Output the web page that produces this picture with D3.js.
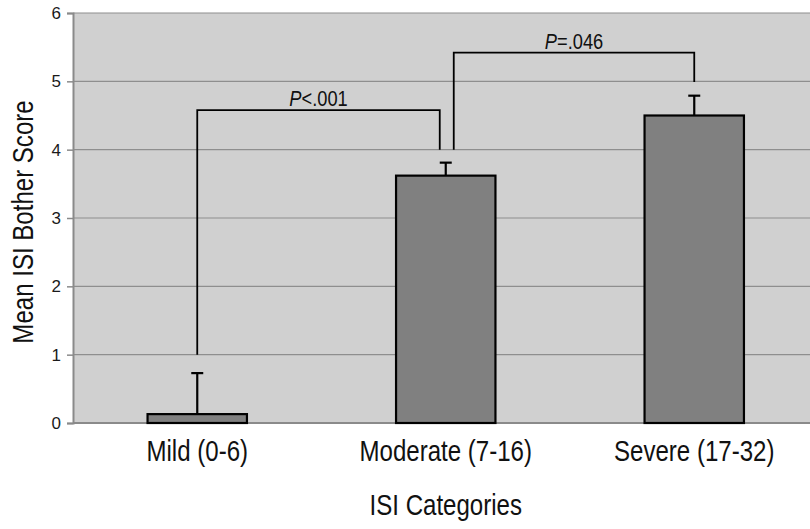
<!DOCTYPE html>
<html>
<head>
<meta charset="utf-8">
<script src="https://cdn.jsdelivr.net/npm/d3@7"></script>
<style>
  html, body { margin: 0; padding: 0; background: #ffffff; }
  svg { display: block; }
  .narrow { font-family: "Liberation Sans", Arial, sans-serif; }
</style>
</head>
<body>
<svg id="chart" width="810" height="529"></svg>
<script>
// ---- data ----
const categories = ["Mild (0-6)", "Moderate (7-16)", "Severe (17-32)"];
const means = [0.13, 3.62, 4.50];
const errUpper = [0.60, 0.19, 0.29];
const yTicks = [0, 1, 2, 3, 4, 5, 6];
const bracketLabels = ["<.001", "=.046"];
const bracketFrom = [0, 1];
const bracketTo = [1, 2];
const bracketHeights = [4.58, 5.42];
const bracketLeftEnds = [1.0, 4.0];
const bracketRightEnds = [4.0, 4.99];
const xTitle = "ISI Categories";
const yTitle = "Mean ISI Bother Score";

// ---- layout ----
const svg = d3.select("#chart");
const mLeft = 73, mRight = 818.5, mTop = 13, mBottom = 423;
const squeeze = 0.83; // condensed look of the original font

const x = d3.scaleBand().domain(categories).range([mLeft, mRight])
  .paddingInner(0.6).paddingOuter(0.3);
const y = d3.scaleLinear().domain([0, 6]).range([mBottom, mTop]);

// plot background
svg.append("rect").attr("x", mLeft).attr("y", mTop)
  .attr("width", mRight - mLeft).attr("height", mBottom - mTop)
  .attr("fill", "#d0d0d0");

// gridlines
svg.append("g").selectAll("line").data(yTicks.filter(d => d > 0)).join("line")
  .attr("x1", mLeft).attr("x2", mRight)
  .attr("y1", d => y(d)).attr("y2", d => y(d))
  .attr("stroke", "#8e8e8e").attr("stroke-width", 1.2);

// y axis
const yAxis = svg.append("g").attr("transform", `translate(${mLeft},0)`)
  .call(d3.axisLeft(y).tickValues(yTicks).tickFormat(d3.format("d")).tickSize(6).tickPadding(6));
yAxis.select(".domain").attr("stroke", "#8a8a8a").attr("stroke-width", 2);
yAxis.selectAll(".tick line").attr("stroke", "#8a8a8a").attr("stroke-width", 1.5);
yAxis.selectAll(".tick text")
  .attr("font-family", "'Liberation Sans', Arial, sans-serif")
  .attr("font-size", 17).attr("fill", "#1a1a1a");

// x axis line
svg.append("line").attr("x1", mLeft).attr("x2", mRight)
  .attr("y1", mBottom).attr("y2", mBottom)
  .attr("stroke", "#8a8a8a").attr("stroke-width", 2);

// bars
svg.append("g").selectAll("rect").data(categories).join("rect")
  .attr("x", d => x(d)).attr("width", x.bandwidth())
  .attr("y", (d, i) => y(means[i]))
  .attr("height", (d, i) => y(0) - y(means[i]))
  .attr("fill", "#808080").attr("stroke", "#000").attr("stroke-width", 2.2);

// error bars (upper only)
const eg = svg.append("g").attr("stroke", "#000").attr("stroke-width", 2.2);
categories.forEach((c, i) => {
  const cx = x(c) + x.bandwidth() / 2;
  eg.append("line").attr("x1", cx).attr("x2", cx)
    .attr("y1", y(means[i])).attr("y2", y(means[i] + errUpper[i]));
  eg.append("line").attr("x1", cx - 6).attr("x2", cx + 6)
    .attr("y1", y(means[i] + errUpper[i])).attr("y2", y(means[i] + errUpper[i]));
});

// significance brackets
const bg = svg.append("g");
const legOffsets = [[0, -6], [8, 0]];
bracketLabels.forEach((lab, k) => {
  const x1 = x(categories[bracketFrom[k]]) + x.bandwidth() / 2 + legOffsets[k][0];
  const x2 = x(categories[bracketTo[k]]) + x.bandwidth() / 2 + legOffsets[k][1];
  const yh = y(bracketHeights[k]);
  bg.append("path")
    .attr("d", `M${x1},${y(bracketLeftEnds[k])}V${yh}H${x2}V${y(bracketRightEnds[k])}`)
    .attr("fill", "none").attr("stroke", "#000").attr("stroke-width", 1.8);
  const t = bg.append("text").attr("class", "narrow")
    .attr("transform", `translate(${(x1 + x2) / 2},${yh - 4}) scale(${squeeze},1)`)
    .attr("text-anchor", "middle").attr("font-size", 22).attr("fill", "#111");
  t.append("tspan").attr("font-style", "italic").text("P");
  t.append("tspan").text(lab);
});

// category labels
svg.append("g").selectAll("text").data(categories).join("text")
  .attr("class", "narrow")
  .attr("transform", d => `translate(${x(d) + x.bandwidth() / 2},461) scale(${squeeze},1)`)
  .attr("text-anchor", "middle").attr("font-size", 29).attr("fill", "#111")
  .text(d => d);

// axis titles
svg.append("text").attr("class", "narrow")
  .attr("transform", `translate(${(mLeft + mRight) / 2},515) scale(${squeeze},1)`)
  .attr("text-anchor", "middle").attr("font-size", 29).attr("fill", "#111")
  .text(xTitle);

svg.append("text").attr("class", "narrow")
  .attr("transform", `translate(33,${(mTop + mBottom) / 2 + 4}) rotate(-90) scale(${squeeze},1)`)
  .attr("text-anchor", "middle").attr("font-size", 29).attr("fill", "#111")
  .text(yTitle);
</script>
</body>
</html>
